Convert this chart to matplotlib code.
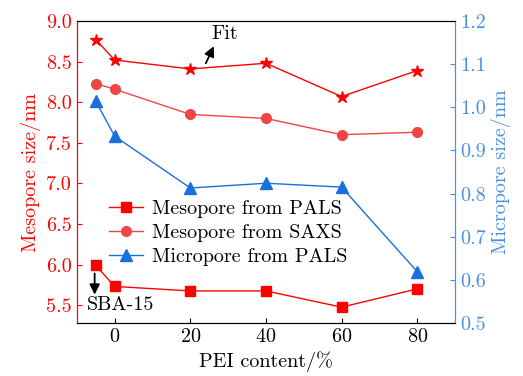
import matplotlib.pyplot as plt
import numpy as np

plt.rcParams['font.family'] = ['cmr10', 'DejaVu Serif']
plt.rcParams['mathtext.fontset'] = 'cm'
plt.rcParams['axes.formatter.use_mathtext'] = True

# PEI content (-5 stands for SBA-15)
x = [-5, 0, 20, 40, 60, 80]
meso_pals = [5.99, 5.73, 5.675, 5.675, 5.475, 5.70]
meso_saxs = [8.23, 8.16, 7.85, 7.80, 7.60, 7.63]
meso_fit = [8.77, 8.52, 8.41, 8.48, 8.07, 8.39]
micro_pals = [1.014, 0.933, 0.813, 0.824, 0.815, 0.619]

red = '#ff0000'
red2 = '#f04545'
blue = '#1a6fdf'
blue_ax = '#4a90e2'
fs = 14.5

fig, ax = plt.subplots(figsize=(5.23, 3.76), dpi=100)
fig.subplots_adjust(left=0.147, right=0.870, top=0.944, bottom=0.141)
ax2 = ax.twinx()

l1, = ax.plot(x, meso_pals, '-s', color=red, ms=6.5, lw=1, label='Mesopore from PALS')
l2, = ax.plot(x, meso_saxs, '-o', color=red2, ms=7, lw=1, label='Mesopore from SAXS')
ax.plot(x, meso_fit, '-*', color=red, ms=9, lw=1)
l3, = ax2.plot(x, micro_pals, '-^', color=blue, ms=8, lw=1, label='Micropore from PALS')

ax.set_xlim(-10, 90)
ax.set_ylim(5.28, 9.0)
ax2.set_ylim(0.5, 1.2)
ax.set_xticks([0, 20, 40, 60, 80])
ax.set_yticks(np.arange(5.5, 9.01, 0.5))
ax2.set_yticks(np.arange(0.5, 1.21, 0.1))
ax.yaxis.set_major_formatter(plt.FormatStrFormatter('%.1f'))
ax2.yaxis.set_major_formatter(plt.FormatStrFormatter('%.1f'))

ax.tick_params(direction='in', labelsize=fs)
ax.tick_params(axis='y', colors=red)
ax2.tick_params(direction='in', labelsize=fs, colors=blue_ax)
ax2.spines['left'].set_color(red)
ax2.spines['right'].set_color(blue_ax)
ax.spines['left'].set_color(red)
ax.spines['right'].set_color(blue_ax)

ax.set_xlabel('PEI content/%', fontsize=fs)
ax.set_ylabel('Mesopore size/nm', fontsize=fs, color=red)
ax2.set_ylabel('Micropore size/nm', fontsize=fs, color=blue_ax)

arrow = dict(arrowstyle='-|>', color='k', lw=1.3, mutation_scale=15,
             shrinkA=0, shrinkB=0)
ax.annotate('', xy=(26.2, 8.69), xytext=(24.1, 8.48), arrowprops=arrow)
ax.text(25.6, 8.84, 'Fit', fontsize=fs, va='center')
ax.annotate('', xy=(-5.3, 5.63), xytext=(-5.3, 5.89), arrowprops=arrow)
ax.text(-7.3, 5.50, 'SBA-15', fontsize=fs, va='center')

ax2.legend([l1, l2, l3], [l1.get_label(), l2.get_label(), l3.get_label()],
           loc='center left', bbox_to_anchor=(0.085, 0.298), frameon=False,
           fontsize=fs, handlelength=1.7, handletextpad=0.45, labelspacing=0.3,
           borderaxespad=0, borderpad=0)

fig.savefig('out.png', dpi=100)
